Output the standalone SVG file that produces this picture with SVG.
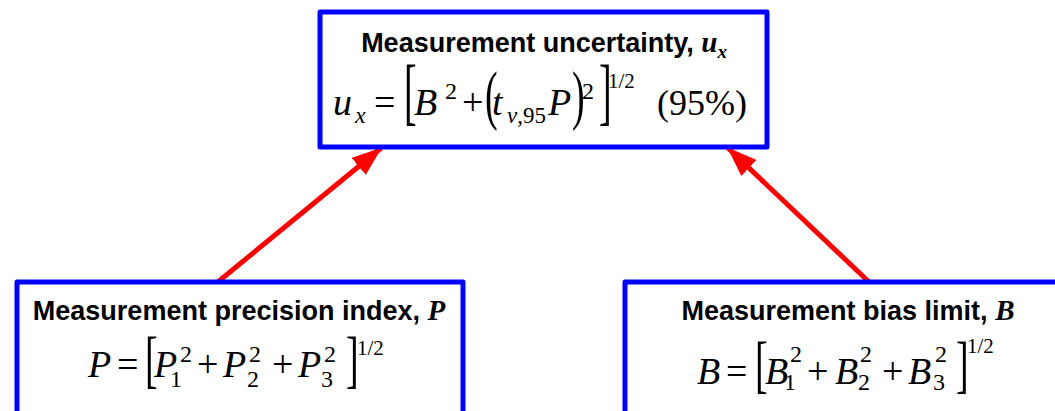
<svg xmlns="http://www.w3.org/2000/svg" width="1055" height="411" viewBox="0 0 1055 411">
<defs>
<style>
.box{fill:#fff;stroke:#0000ff;stroke-width:5;stroke-linejoin:round}
.ttl{font-family:"Liberation Sans",Arial,sans-serif;font-weight:bold;font-size:27px;fill:#000}
.tv{font-family:"Liberation Serif","Times New Roman",serif;font-style:italic;font-weight:bold}
.m{font-family:"Liberation Serif","Times New Roman",serif;font-size:38px;fill:#000}
.i{font-style:italic}
.s{font-size:24px}
.h{font-size:21px}
.con{stroke:#ff0000;stroke-width:5;stroke-linecap:round;fill:none}
</style>
<marker id="ah" markerWidth="6" markerHeight="4.4" refX="5.5" refY="2.2" orient="auto" markerUnits="strokeWidth">
<path d="M0,0 L6,2.2 L0,4.4 Z" fill="#ff0000"/>
</marker>
</defs>
<g id="connectors">
<line class="con" x1="219" y1="281" x2="380" y2="149" marker-end="url(#ah)"/>
<line class="con" x1="868" y1="281" x2="729" y2="149" marker-end="url(#ah)"/>
</g>
<g id="node-uncertainty">
<rect class="box" x="320" y="12" width="447" height="135"/>
<text class="ttl" x="544" y="52" text-anchor="middle">Measurement uncertainty, <tspan class="tv" font-size="29">u</tspan><tspan class="tv" font-size="19" dy="6">x</tspan></text>
<g class="m">
<text x="333" y="115" class="i">u</text>
<text x="355" y="123" class="i s">x</text>
<text x="374" y="115">=</text>
<text transform="translate(404,115.6) scale(1,1.93)">[</text>
<text x="414" y="115" class="i">B</text>
<text x="445" y="99" class="s">2</text>
<text x="462" y="115">+</text>
<text transform="translate(485,116.5) scale(1,1.73)">(</text>
<text x="492" y="115" class="i">t</text>
<text x="507" y="123" font-size="23"><tspan class="i">v</tspan>,95</text>
<text x="548" y="115" class="i">P</text>
<text transform="translate(572,116.5) scale(1,1.73)">)</text>
<text x="582" y="99" class="s">2</text>
<text transform="translate(599,115.6) scale(1,1.93)">]</text>
<text x="608" y="88" class="h">1/2</text>
<text x="657" y="115" font-size="36">(95%)</text>
</g>
</g>
<g id="node-precision">
<rect class="box" x="17" y="282" width="446" height="140"/>
<text class="ttl" x="239" y="320" text-anchor="middle">Measurement precision index, <tspan class="tv" font-size="29">P</tspan></text>
<g class="m">
<text x="88" y="377" class="i">P</text>
<text x="117" y="377">=</text>
<text transform="translate(145,380) scale(1,1.67)">[</text>
<text x="154" y="377" class="i">P</text>
<text x="180" y="362" class="s">2</text>
<text x="170" y="387" class="s">1</text>
<text x="197" y="377">+</text>
<text x="223" y="377" class="i">P</text>
<text x="249" y="362" class="s">2</text>
<text x="247" y="387" class="s">2</text>
<text x="272" y="377">+</text>
<text x="298" y="377" class="i">P</text>
<text x="324" y="362" class="s">2</text>
<text x="321" y="387" class="s">3</text>
<text transform="translate(346,380) scale(1,1.67)">]</text>
<text x="357" y="355" class="h">1/2</text>
</g>
</g>
<g id="node-bias">
<rect class="box" x="625" y="282" width="450" height="140"/>
<text class="ttl" x="848" y="320" text-anchor="middle">Measurement bias limit, <tspan class="tv" font-size="29">B</tspan></text>
<g class="m">
<text x="697" y="384" class="i">B</text>
<text x="726" y="384">=</text>
<text transform="translate(755,385) scale(1,1.67)">[</text>
<text x="765" y="384" class="i">B</text>
<text x="790" y="362" class="s">2</text>
<text x="784" y="390" class="s">1</text>
<text x="807" y="384">+</text>
<text x="835" y="384" class="i">B</text>
<text x="860" y="362" class="s">2</text>
<text x="858" y="390" class="s">2</text>
<text x="882" y="384">+</text>
<text x="908" y="384" class="i">B</text>
<text x="935" y="362" class="s">2</text>
<text x="933" y="390" class="s">3</text>
<text transform="translate(956,385) scale(1,1.67)">]</text>
<text x="967" y="353" class="h">1/2</text>
</g>
</g>
</svg>
